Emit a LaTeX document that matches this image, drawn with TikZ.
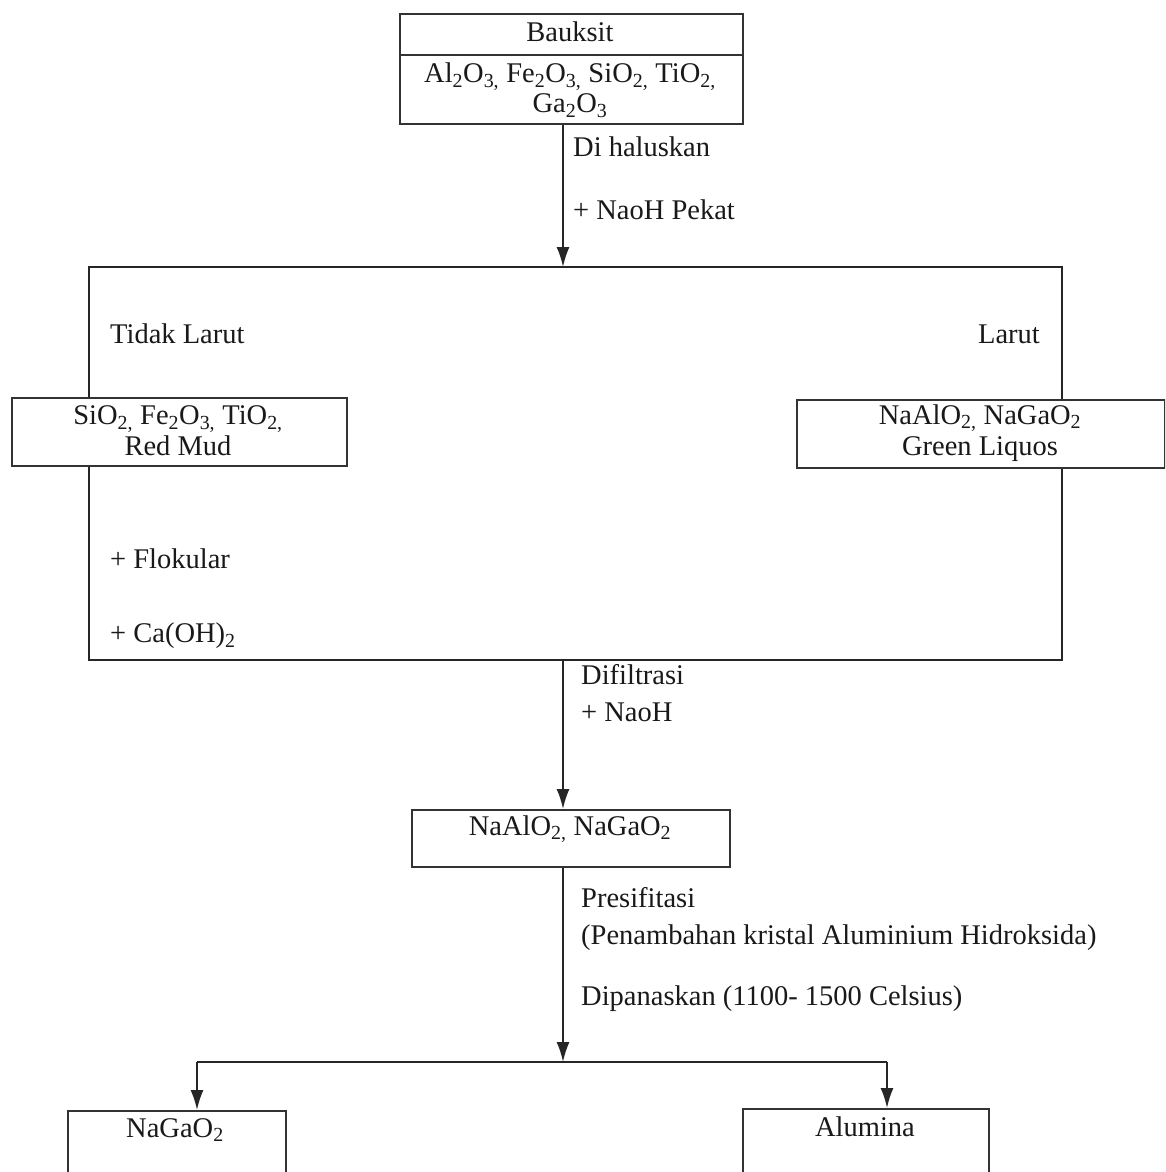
\documentclass[tikz,border=0pt]{standalone}
\usepackage{fontspec}
\setmainfont{Liberation Serif}
\usetikzlibrary{arrows.meta}
\begin{document}
\begin{tikzpicture}[x=1pt,y=-1pt,
  ln/.style={line width=1.8pt,draw=black!85},
  arr/.style={ln,-{Latex[length=20pt,width=13pt]}},
  boxn/.style={draw=black!80,line width=1.6pt,inner sep=0pt,anchor=north west},
  txt/.style={inner sep=0pt,font=\fontsize{28.5}{32}\selectfont,text=black!90},
  lbl/.style={txt,anchor=west}]
\clip (0,0) rectangle (1165,1172);
\fill[white] (0,0) rectangle (1165,1172);
\newcommand{\sbs}[1]{\textsubscript{#1}}
% Bauksit box
\node[boxn,minimum width=343pt,minimum height=41pt] (bk) at (399,13) {};
\node[boxn,minimum width=343pt,minimum height=69pt] (bkc) at (399,54) {};
\node[txt] (bkt) at (570,32) {Bauksit};
\node[txt,align=center] (bkct) at (570,90) {Al\sbs{2}O\sbs{3,} Fe\sbs{2}O\sbs{3,} SiO\sbs{2,} TiO\sbs{2,}\\[-2pt]Ga\sbs{2}O\sbs{3}};
% frame
\coordinate (tl) at (89,267);
\coordinate (tr) at (1062,267);
\coordinate (bl) at (89,660);
\coordinate (br) at (1062,660);
\coordinate (tm) at (563,267);
\coordinate (bm) at (563,660);
\draw[arr] (bkc.south -| tm) -- (tm);
\node[lbl] (l1) at (573,147) {Di haluskan};
\node[lbl] (l2) at (573,210) {+ NaoH Pekat};
% side boxes
\node[boxn,minimum width=335pt,minimum height=68pt] (lbox) at (11,397) {};
\node[txt,align=center] (lboxt) at (178,431) {SiO\sbs{2,} Fe\sbs{2}O\sbs{3,} TiO\sbs{2,}\\[-1pt]Red Mud};
\node[boxn,minimum width=368pt,minimum height=68pt] (rbox) at (796,399) {};
\node[txt,align=center] (rboxt) at (980,433) {NaAlO\sbs{2,} NaGaO\sbs{2}\\[-1pt]Green Liquos};
\draw[ln] (tl |- lbox.north) -- (tl) -- (tr) -- (tr |- rbox.north);
\draw[ln] (lbox.south -| bl) -- (bl) -- (br) -- (rbox.south -| br);
\node[lbl] (tdk) at (110,334) {Tidak Larut};
\node[txt,anchor=east] (lar) at (1040,334) {Larut};
\node[lbl] (flo) at (110,559) {+ Flokular};
\node[lbl] (cao) at (110,636) {+ Ca(OH)\sbs{2}};
% middle
\node[boxn,minimum width=318pt,minimum height=57pt] (mbox) at (411,809) {};
\node[txt] (mboxt) at (570,829) {NaAlO\sbs{2,} NaGaO\sbs{2}};
\draw[arr] (bm) -- (mbox.north -| bm);
\node[lbl] (d1) at (581,675) {Difiltrasi};
\node[lbl] (d2) at (581,712) {+ NaoH};
\coordinate (jn) at (563,1062);
\draw[arr] (mbox.south -| jn) -- (jn);
\node[lbl] (p1) at (581,898) {Presifitasi};
\node[lbl] (p2) at (581,938) {(Penambahan kristal Aluminium Hidroksida)};
\node[lbl] (p3) at (581,999) {Dipanaskan (1100- 1500 Celsius)};
% bottom
\node[boxn,minimum width=218pt,minimum height=120pt] (gbox) at (67,1110) {};
\node[txt] (gboxt) at (175,1130) {NaGaO\sbs{2}};
\node[boxn,minimum width=246pt,minimum height=120pt] (abox) at (742,1108) {};
\node[txt] (aboxt) at (865,1127) {Alumina};
\coordinate (jl) at (197,1062);
\coordinate (jr) at (887,1062);
\draw[ln] (jl) -- (jr);
\draw[arr] (jl) -- (gbox.north -| jl);
\draw[arr] (jr) -- (abox.north -| jr);
\end{tikzpicture}
\end{document}
